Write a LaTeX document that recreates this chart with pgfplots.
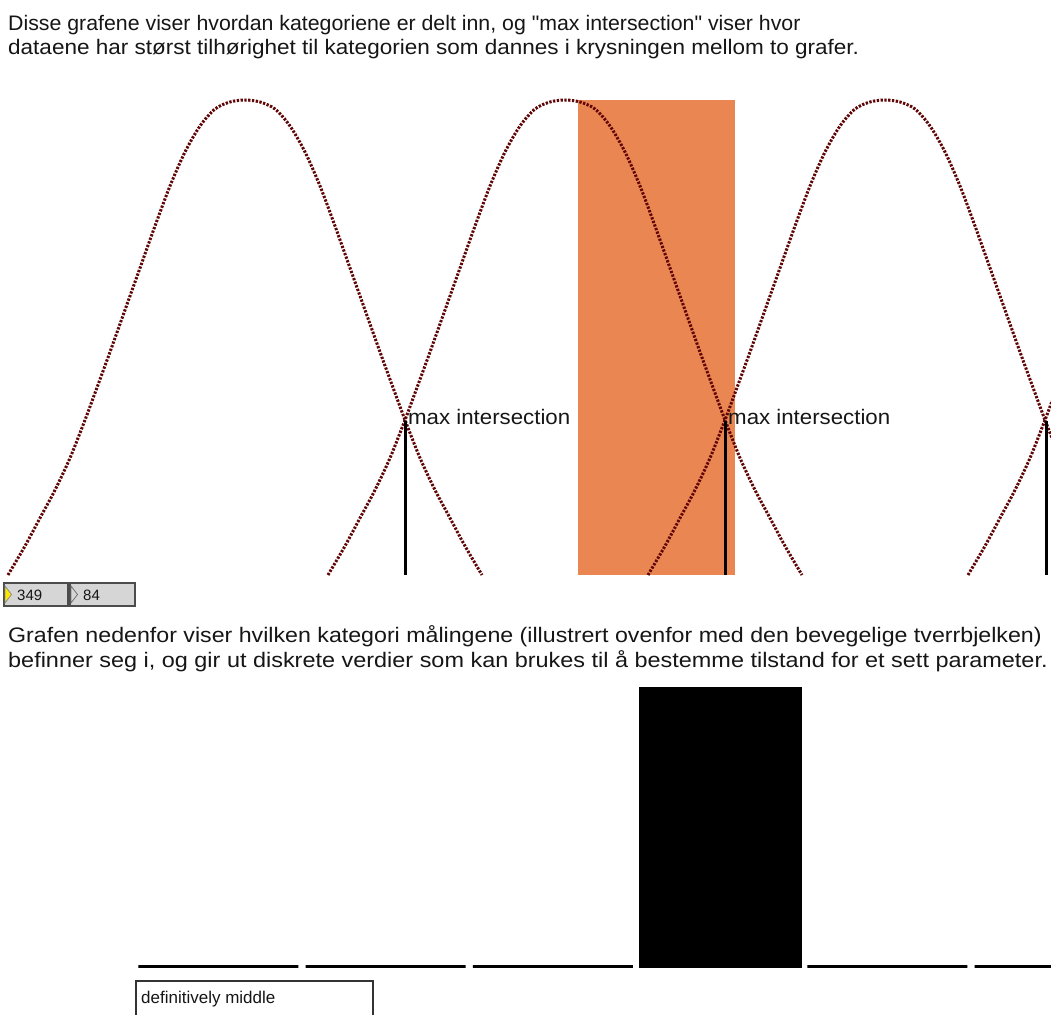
\documentclass[border=0pt]{standalone}
\usepackage{fontspec}
\setmainfont{Liberation Sans}[Ligatures=TeXOff]
\usepackage{graphicx}
\usepackage{pgfplots}
\pgfplotsset{compat=1.18}

\definecolor{curve}{RGB}{96,6,6}
\definecolor{band}{RGB}{234,134,82}
\definecolor{boxgray}{RGB}{214,214,214}
\definecolor{txt}{RGB}{22,22,22}

\pgfplotsset{bell/.style={no marks, smooth, draw=curve, line width=3pt, dash pattern=on 2.3pt off 1.5pt}}

% a line of text set at a given baseline, stretched horizontally by #3
\newcommand\textline[4]{\node[anchor=base west, inner sep=0pt, text=txt,
  font=\fontsize{21}{24}\selectfont] at (#1,#2) {\scalebox{#3}[1]{#4}};}

\begin{document}
\begin{tikzpicture}[x=1pt,y=1pt]
\useasboundingbox (0,0) rectangle (1051,1014);
\fill[white] (0,0) rectangle (1051,1014);
\coordinate (topNW) at (0,914);
\coordinate (botSW) at (137,48);

% explanatory text
\textline{8}{983}{1.015}{Disse grafene viser hvordan kategoriene er delt inn, og "max intersection" viser hvor}
\textline{8}{959}{1.072}{dataene har størst tilhørighet til kategorien som dannes i krysningen mellom to grafer.}
\textline{8}{371}{1.104}{Grafen nedenfor viser hvilken kategori målingene (illustrert ovenfor med den bevegelige tverrbjelken)}
\textline{8}{346}{1.116}{befinner seg i, og gir ut diskrete verdier som kan brukes til å bestemme tilstand for et sett parameter.}

% membership functions with the moving cross-bar
\begin{axis}[at={(topNW)}, anchor=north west, scale only axis,
  width=1051pt, height=475pt, xmin=0, xmax=1051, ymin=100, ymax=575,
  y dir=reverse, hide axis, clip=false]
  \addplot[draw=none, fill=band, no marks] coordinates {(578,575)(578,100)(735,100)(735,575)};
  \addplot[bell] coordinates {
    (8,575)(25,546)(40,518)(55,490)(70,458)(85,420)(95,393)(110,352)(125,310)(140,268)(155,226)(170,186)(185,152)(200,126)(215,109)(230,102)(245,100)
    (260,102)(275,109)(290,126)(305,152)(320,186)(335,226)(350,268)(365,310)(380,352)(395,393)(405,420)(420,458)(435,490)(450,518)(465,546)(482,575)};
  \addplot[bell] coordinates {
    (328,575)(345,546)(360,518)(375,490)(390,458)(405,420)(415,393)(430,352)(445,310)(460,268)(475,226)(490,186)(505,152)(520,126)(535,109)(550,102)(565,100)
    (580,102)(595,109)(610,126)(625,152)(640,186)(655,226)(670,268)(685,310)(700,352)(715,393)(725,420)(740,458)(755,490)(770,518)(785,546)(802,575)};
  \addplot[bell] coordinates {
    (648,575)(665,546)(680,518)(695,490)(710,458)(725,420)(735,393)(750,352)(765,310)(780,268)(795,226)(810,186)(825,152)(840,126)(855,109)(870,102)(885,100)
    (900,102)(915,109)(930,126)(945,152)(960,186)(975,226)(990,268)(1005,310)(1020,352)(1035,393)(1045,420)(1060,458)(1075,490)};
  \addplot[bell] coordinates {
    (968,575)(985,546)(1000,518)(1015,490)(1030,458)(1045,420)(1055,393)(1070,352)};
  % max intersection markers
  \addplot[black, line width=3pt, no marks] coordinates {(405,421)(405,575)};
  \addplot[black, line width=3pt, no marks] coordinates {(725,421)(725,575)};
  \addplot[black, line width=3pt, no marks] coordinates {(1046,421)(1046,575)};
  \node[anchor=base west, inner sep=0pt, text=txt, font=\fontsize{21}{24}\selectfont] at (axis cs:408,425) {\scalebox{1.06}[1]{max intersection}};
  \node[anchor=base west, inner sep=0pt, text=txt, font=\fontsize{21}{24}\selectfont] at (axis cs:728,425) {\scalebox{1.06}[1]{max intersection}};
\end{axis}

% number boxes
\draw[fill=boxgray, draw=black!70, line width=1.3pt] (4,431) rectangle (68,408);
\draw[fill=yellow!90!orange, draw=black!45, line width=0.8pt] (5,428) -- (11.5,419.5) -- (5,411) -- cycle;
\node[anchor=base west, inner sep=0pt, text=txt, font=\fontsize{15}{17}\selectfont] at (17,413.5) {349};
\draw[fill=boxgray, draw=black!70, line width=1.3pt] (70,431) rectangle (135,408);
\draw[fill=boxgray, draw=black!55, line width=0.8pt] (71,428) -- (77.5,419.5) -- (71,411) -- cycle;
\node[anchor=base west, inner sep=0pt, text=txt, font=\fontsize{15}{17}\selectfont] at (83,413.5) {84};

% discrete category output
\begin{axis}[at={(botSW)}, anchor=south west, scale only axis,
  width=914pt, height=277pt, xmin=-0.4874, xmax=4.979, ymin=0, ymax=1,
  hide axis, clip=false, ybar, bar width=160pt]
  \addplot[fill=black, draw=black, line width=3pt] coordinates {(0,0)(1,0)(2,0)(3,1)(4,0)(5,0)};
\end{axis}

% state read-out
\draw[draw=black!80, line width=1.3pt] (136,33) rectangle (373,-20);
\node[anchor=base west, inner sep=0pt, text=txt, font=\fontsize{17}{19}\selectfont] at (141,11) {definitively middle};
\end{tikzpicture}
\end{document}
